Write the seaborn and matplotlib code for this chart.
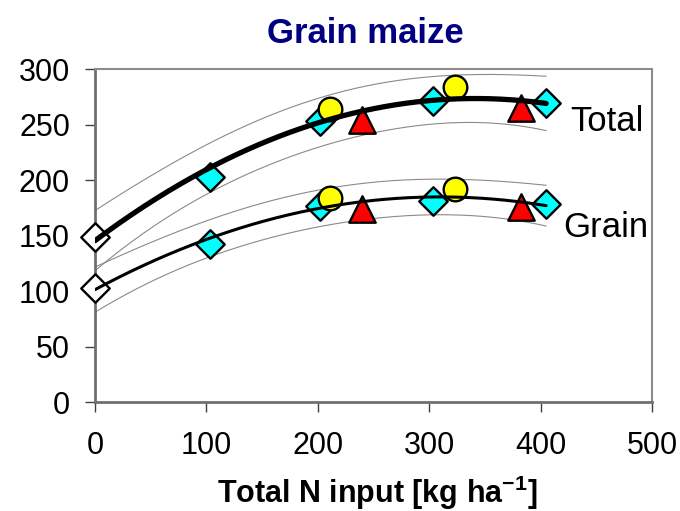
import numpy as np
import pandas as pd
import matplotlib
matplotlib.use("Agg")
import matplotlib.pyplot as plt
import seaborn as sns

# ---- data ----
N_INPUT = [0, 103, 202, 211, 240, 303, 323, 382, 405]
TOTAL_YIELD = [149, 203, 253, 264, 254, 271, 284, 265, 270]
GRAIN_YIELD = [103, 143, 177, 184, 174, 181, 192, 176, 179]
SOURCE = ["zero", "cyan", "cyan", "yellow", "red", "cyan", "yellow", "red", "cyan"]
X_TICKS = [0, 100, 200, 300, 400, 500]
Y_TICKS = [0, 50, 100, 150, 200, 250, 300]
TITLE = "Grain maize"
X_LABEL = r"Total N input [kg ha$^{\mathbf{-1}}$]"
SERIES_LABELS = ["Total", "Grain"]
T_CRIT = 2.447  # t(0.975, df = 9 - 3)

sns.set_style("white")
plt.rcParams["font.family"] = ["Liberation Sans", "DejaVu Sans"]
plt.rcParams["mathtext.fontset"] = "custom"
plt.rcParams["mathtext.rm"] = "Liberation Sans"
plt.rcParams["mathtext.bf"] = "Liberation Sans:bold"
plt.rcParams["text.color"] = "black"
plt.rcParams["xtick.labelcolor"] = "black"
plt.rcParams["ytick.labelcolor"] = "black"

df = pd.DataFrame({"N": N_INPUT, "Total": TOTAL_YIELD, "Grain": GRAIN_YIELD, "source": SOURCE})
long = df.melt(id_vars=["N", "source"], value_vars=["Total", "Grain"],
               var_name="part", value_name="yield")

fig = plt.figure(figsize=(6.8, 5.11), dpi=100)
ax = fig.add_axes([95 / 680, 1 - 402.3 / 511, (652 - 95) / 680, (402.3 - 69.3) / 511])


def quad_band(x, y, xg):
    x = np.asarray(x, float)
    y = np.asarray(y, float)
    X = np.vander(x, 3)
    beta, *_ = np.linalg.lstsq(X, y, rcond=None)
    resid = y - X @ beta
    s2 = resid @ resid / (len(x) - 3)
    XtXi = np.linalg.inv(X.T @ X)
    G = np.vander(xg, 3)
    fit = G @ beta
    h = np.einsum("ij,jk,ik->i", G, XtXi, G)
    half = T_CRIT * np.sqrt(s2 * (1 + h))
    return fit, fit - half, fit + half


xg = np.linspace(min(N_INPUT), max(N_INPUT), 300)
for col, lw in (("Total", 3.8), ("Grain", 2.2)):
    fit, lo, hi = quad_band(df["N"], df[col], xg)
    for band in (lo, hi):
        sns.lineplot(x=xg, y=band, color="#8a8a8a", linewidth=0.8, ax=ax, zorder=2)
    sns.lineplot(x=xg, y=fit, color="black", linewidth=lw, ax=ax, zorder=8)

markers = {"zero": "D", "cyan": "D", "red": "^", "yellow": "o"}
colors = {"zero": "white", "cyan": "#00FFFF", "red": "#FF0000", "yellow": "#FFFF00"}
sizes = {"zero": 14.5, "cyan": 14.5, "red": 19, "yellow": 17}
for i, src in enumerate(["zero", "cyan", "red", "yellow"]):
    sub = long[long["source"] == src]
    sns.scatterplot(data=sub, x="N", y="yield", marker=markers[src], color=colors[src],
                    s=sizes[src] ** 2, edgecolor="black", linewidth=1.7, ax=ax,
                    zorder=4 + i, clip_on=False, legend=False)

ax.set_xlim(0, 500)
ax.set_ylim(0, 300)
ax.set_xticks(X_TICKS)
ax.set_yticks(Y_TICKS)
ax.set_xlabel("")
ax.set_ylabel("")
ax.tick_params(axis="both", direction="out", length=7, width=1, color="#404040",
               labelsize=22, bottom=True, left=True)
ax.tick_params(axis="y", pad=11)
ax.tick_params(axis="x", pad=14)
for side in ("left", "bottom"):
    ax.spines[side].set_color("#707070")
    ax.spines[side].set_linewidth(2.0)
for side in ("top", "right"):
    ax.spines[side].set_color("#8c8c8c")
    ax.spines[side].set_linewidth(1.5)

ax.text(427, 244, SERIES_LABELS[0], fontsize=25, va="baseline", ha="left", clip_on=False)
ax.text(420, 149, SERIES_LABELS[1], fontsize=25, va="baseline", ha="left", clip_on=False)

fig.text(365 / 680, 1 - 43 / 511, TITLE, ha="center", va="baseline", fontsize=25,
         fontweight="bold", color="#000080")
fig.text(377 / 680, 1 - 503 / 511, X_LABEL, ha="center", va="baseline", fontsize=22,
         fontweight="bold")

fig.savefig("out.png", dpi=100)
